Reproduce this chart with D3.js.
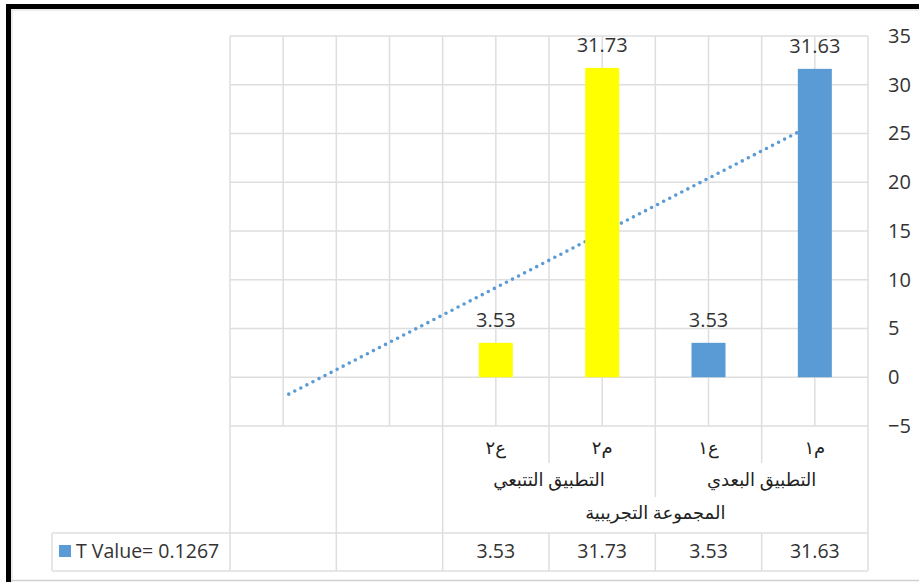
<!DOCTYPE html>
<html><head><meta charset="utf-8">
<script src="https://cdn.jsdelivr.net/npm/d3@7"></script>
<style>
html,body{margin:0;padding:0;background:#fff;}
svg{display:block;font-family:"Open Sans","DejaVu Sans",sans-serif;}
</style></head>
<body>
<svg id="c" width="919" height="582"></svg>
<script>
// ---- data ----
const categories = ["م١", "ع١", "م٢", "ع٢", "", ""];
const values = [31.63, 3.53, 31.73, 3.53, null, null];
const barColors = ["#5B9BD5", "#5B9BD5", "#FFFF00", "#FFFF00"];
const groupLabels = ["التطبيق البعدي", "التطبيق التتبعي"];
const groupSpans = [[0, 1], [2, 3]];
const topLabel = "المجموعة التجريبية";
const seriesName = "T Value= 0.1267";
const yTicks = [-5, 0, 5, 10, 15, 20, 25, 30, 35];

const svg = d3.select("#c");
const L = 230, R = 868, T = 36, B = 426;
const grid = "#dedede", txt = "#333333";

// frame
svg.append("rect").attr("x", 0).attr("y", 0).attr("width", 919).attr("height", 582).attr("fill", "#fff");
svg.append("line").attr("x1", 11).attr("x2", 919).attr("y1", 580.5).attr("y2", 580.5).attr("stroke", "#d0d0d0").attr("stroke-width", 1.5);
svg.append("line").attr("x1", 11).attr("x2", 919).attr("y1", 10).attr("y2", 10).attr("stroke", "#d8d8d8").attr("stroke-width", 1);
svg.append("line").attr("x1", 12).attr("x2", 12).attr("y1", 10).attr("y2", 582).attr("stroke", "#d8d8d8").attr("stroke-width", 1);
svg.append("rect").attr("x", 6).attr("y", 4).attr("width", 913).attr("height", 5).attr("fill", "#000");
svg.append("rect").attr("x", 6).attr("y", 4).attr("width", 5).attr("height", 578).attr("fill", "#000");

const x = d3.scaleBand().domain(d3.range(categories.length)).range([R, L]).padding(0);
const y = d3.scaleLinear().domain([-5, 35]).range([B, T]);
const bw = x.bandwidth();
const cx = i => x(i) + bw / 2;
const gl = svg.append("g").attr("stroke", grid).attr("stroke-width", 1.5);

// horizontal gridlines
gl.selectAll("line.h").data(yTicks).join("line")
  .attr("x1", L).attr("x2", R).attr("y1", d => y(d)).attr("y2", d => y(d));
// vertical gridlines every half category
const halfs = d3.range(categories.length * 2 + 1).map(k => L + k * bw / 2);
gl.selectAll("line.v").data(halfs).join("line")
  .attr("x1", d => d).attr("x2", d => d).attr("y1", T).attr("y2", B);

// table lines
const rowCat = [B, 463], rowGrp = [B, 497], rowData = [533, 571];
const tl = svg.append("g").attr("stroke", grid).attr("stroke-width", 1.5);
const hline = (x1, x2, yy) => tl.append("line").attr("x1", x1).attr("x2", x2).attr("y1", yy).attr("y2", yy);
const vline = (xx, y1, y2) => tl.append("line").attr("x1", xx).attr("x2", xx).attr("y1", y1).attr("y2", y2);
hline(52, R, rowData[0]); hline(52, R, rowData[1]);
vline(52, rowData[0], rowData[1]);
[L, x(4), x(3), R].forEach(e => vline(e, B, rowData[1]));
[x(0), x(2)].forEach(e => { vline(e, rowCat[0], rowCat[1]); vline(e, rowData[0], rowData[1]); });
vline(x(1), rowGrp[0], rowGrp[1]); vline(x(1), rowData[0], rowData[1]);

// trendline (linear least squares on the plotted points, as Excel draws it)
const pts = values.map((v, i) => ({ i: i + 1, v })).filter(d => d.v != null);
const mx = d3.mean(pts, d => d.i), my = d3.mean(pts, d => d.v);
const slope = d3.sum(pts, d => (d.i - mx) * (d.v - my)) / d3.sum(pts, d => (d.i - mx) ** 2);
const icpt = my - slope * mx;
const trend = [1, categories.length].map(k => [cx(k - 1), y(icpt + slope * k)]);
svg.append("path").attr("d", d3.line()(trend)).attr("fill", "none")
  .attr("stroke", "#5B9BD5").attr("stroke-width", 3.6).attr("stroke-linecap", "round")
  .attr("stroke-dasharray", "0 6.8");

// bars
const barW = 34;
const barData = values.map((v, i) => ({ v, i })).filter(d => d.v != null);
svg.append("g").selectAll("rect").data(barData).join("rect")
  .attr("x", d => cx(d.i) - barW / 2).attr("width", barW)
  .attr("y", d => y(Math.max(0, d.v))).attr("height", d => Math.abs(y(d.v) - y(0)))
  .attr("fill", d => barColors[d.i]);

// data labels
svg.append("g").selectAll("text").data(barData).join("text")
  .attr("x", d => cx(d.i)).attr("y", d => y(d.v) - 16)
  .attr("text-anchor", "middle").attr("font-size", 20).attr("fill", txt)
  .text(d => d.v.toFixed(2));

// y axis (right)
const ax = svg.append("g").attr("transform", `translate(${R},0)`)
  .call(d3.axisRight(y).tickValues(yTicks).tickSize(0).tickPadding(20));
ax.select(".domain").remove();
ax.selectAll("text").attr("font-size", 20).attr("fill", txt)
  .attr("font-family", "'Open Sans','DejaVu Sans',sans-serif");

// category labels
svg.append("g").selectAll("text").data(categories).join("text")
  .attr("x", (d, i) => cx(i)).attr("y", 454)
  .attr("text-anchor", "middle").attr("direction", "rtl").attr("font-size", 18).attr("fill", "#222")
  .text(d => d);
// group labels
svg.append("g").selectAll("text").data(groupLabels).join("text")
  .attr("x", (d, i) => (cx(groupSpans[i][0]) + cx(groupSpans[i][1])) / 2).attr("y", 486)
  .attr("text-anchor", "middle").attr("direction", "rtl").attr("font-size", 18).attr("fill", "#222")
  .text(d => d);
svg.append("text").attr("x", (cx(0) + cx(3)) / 2).attr("y", 519)
  .attr("text-anchor", "middle").attr("direction", "rtl").attr("font-size", 18).attr("fill", "#222")
  .text(topLabel);

// data table values
svg.append("g").selectAll("text").data(barData).join("text")
  .attr("x", d => cx(d.i)).attr("y", 558)
  .attr("text-anchor", "middle").attr("font-size", 19.5).attr("fill", txt)
  .text(d => d.v.toFixed(2));

// legend key in table
svg.append("rect").attr("x", 59).attr("y", 545).attr("width", 12).attr("height", 12).attr("fill", barColors[0]);
svg.append("text").attr("x", 76).attr("y", 558).attr("font-size", 19.5).attr("fill", txt).text(seriesName);
</script>
</body></html>
